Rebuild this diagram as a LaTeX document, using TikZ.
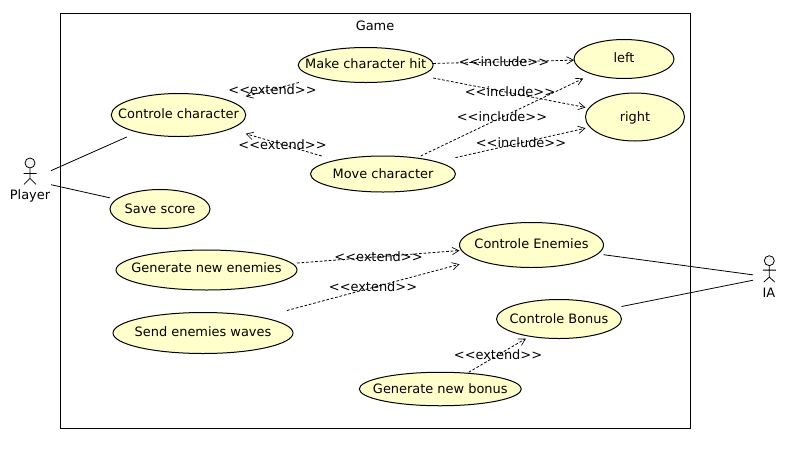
\documentclass[tikz,border=0pt]{standalone}
\usepackage{fontspec}
\setmainfont{DejaVu Sans}
\usetikzlibrary{arrows.meta,shapes.geometric}
\tikzset{
  x=0.75pt,y=-0.75pt,
  ucell/.style={ellipse,draw=black,fill=ucfill,line width=0.75pt,inner sep=0pt},
  ubox/.style={rectangle,inner sep=0pt,outer sep=0pt},
  assoc/.style={line width=0.6pt,black},
  dep/.style={line width=0.6pt,black,dash pattern=on 2pt off 1.4pt,-{Straight Barb[length=5pt,width=5.5pt,line width=0.5pt]}},
  dlabel/.style={font=\fontsize{9.7pt}{12pt}\selectfont,inner sep=0pt,text height=8.8pt,text depth=1.7pt},
  actorline/.style={line width=0.6pt,black},
  frame/.style={draw=black,line width=0.75pt}
}
\definecolor{ucfill}{HTML}{FFFFCC}
\definecolor{headfill}{HTML}{F4F4F8}
% name, x, y, width, height, text y, text, box y, box height
\newcommand{\usecase}[9]{%
  \node[ucell,minimum width=#4*0.75pt,minimum height=#5*0.75pt] (#1e) at (#2,#3) {};
  \node[dlabel] (#1t) at (#2,#6) {#7};
  \node[ubox,minimum width=#4*0.75pt,minimum height=#9*0.75pt] (#1) at (#2,#8) {};
}
\newcommand{\ltt}{<\kern0pt<}
\newcommand{\gtt}{>\kern0pt>}
\begin{document}
\begin{tikzpicture}
\useasboundingbox (0,0) rectangle (792,454);
\fill[white] (0,0) rectangle (792,454);
\node[ubox,frame,minimum width=630*0.75pt,minimum height=415*0.75pt] (frm) at (375.5,221) {};
\node[dlabel] (game) at (375,26) {Game};

\usecase{cc}{178.5}{115}{134.5}{43}{114}{Controle character}{114}{46}
\usecase{ss}{160}{209}{100}{39}{209}{Save score}{209}{39}
\usecase{mh}{365.7}{65}{135}{35}{64}{Make character hit}{65}{35}
\usecase{lf}{624}{59}{100}{39}{58}{left}{59}{39}
\usecase{rg}{635}{117}{99}{48}{117}{right}{117}{48}
\usecase{mv}{383}{174}{145}{36}{174}{Move character}{174}{36}
\usecase{ce}{531.5}{245}{144}{45}{244}{Controle Enemies}{245}{45}
\usecase{cb}{559}{319}{125}{39}{319}{Controle Bonus}{319}{39}
\usecase{gb}{440.3}{389}{162}{33.5}{389}{Generate new bonus}{389}{33.5}
\usecase{ge}{206.5}{270}{181}{40}{268}{Generate new enemies}{270}{40}
\usecase{sw}{203}{333}{180}{41}{332}{Send enemies waves}{333}{45}

% actors
\node[ubox,minimum width=42*0.75pt,minimum height=45*0.75pt] (player) at (30,180) {};
\node[ubox,minimum width=32*0.75pt,minimum height=45*0.75pt] (ia) at (769,277) {};
\node[circle,draw=black,fill=headfill,line width=0.6pt,minimum size=7.5pt,inner sep=0pt] (phead) at (30,163) {};
\draw[actorline] (phead.south) -- ++(0,10) coordinate (phip) ++(-6.5,-5) -- ++(13,0) (phip) -- ++(-6,6) (phip) -- ++(6,6);
\node[dlabel] (plabel) at (30,195) {Player};
\node[circle,draw=black,fill=headfill,line width=0.6pt,minimum size=7.5pt,inner sep=0pt] (ihead) at (769.3,260.7) {};
\draw[actorline] (ihead.south) -- ++(0,11) coordinate (ihip) ++(-6.5,-7) -- ++(13,0) (ihip) -- ++(-5.5,5) (ihip) -- ++(5.5,5);
\node[dlabel] (ilabel) at (769,292.5) {IA};

% associations
\draw[assoc] (player) -- (cc);
\draw[assoc] (player) -- (ss);
\draw[assoc] (ce) -- (ia);
\draw[assoc] (cb) -- (ia);

% dependencies
\draw[dep] (mh) -- (cc);
\draw[dep] (mv) -- (cc);
\draw[dep] (mh) -- (lf);
\draw[dep] (mh) -- (rg);
\draw[dep] (mv) -- (lf);
\draw[dep] (mv) -- (rg);
\draw[dep] (ge) -- (ce);
\draw[dep] (sw) -- (ce);
\draw[dep] (gb) -- (cb);

% labels
\node[dlabel] (l1) at (272.5,90) {\ltt extend\gtt};
\node[dlabel] (l2) at (282.5,145) {\ltt extend\gtt};
\node[dlabel] (l3) at (504,62) {\ltt include\gtt};
\node[dlabel] (l4) at (510,92) {\ltt include\gtt};
\node[dlabel] (l5) at (502,117) {\ltt include\gtt};
\node[dlabel] (l6) at (521,143) {\ltt include\gtt};
\node[dlabel] (l7) at (378.5,256.7) {\ltt extend\gtt};
\node[dlabel] (l8) at (373,287) {\ltt extend\gtt};
\node[dlabel] (l9) at (498,355) {\ltt extend\gtt};
\end{tikzpicture}
\end{document}
